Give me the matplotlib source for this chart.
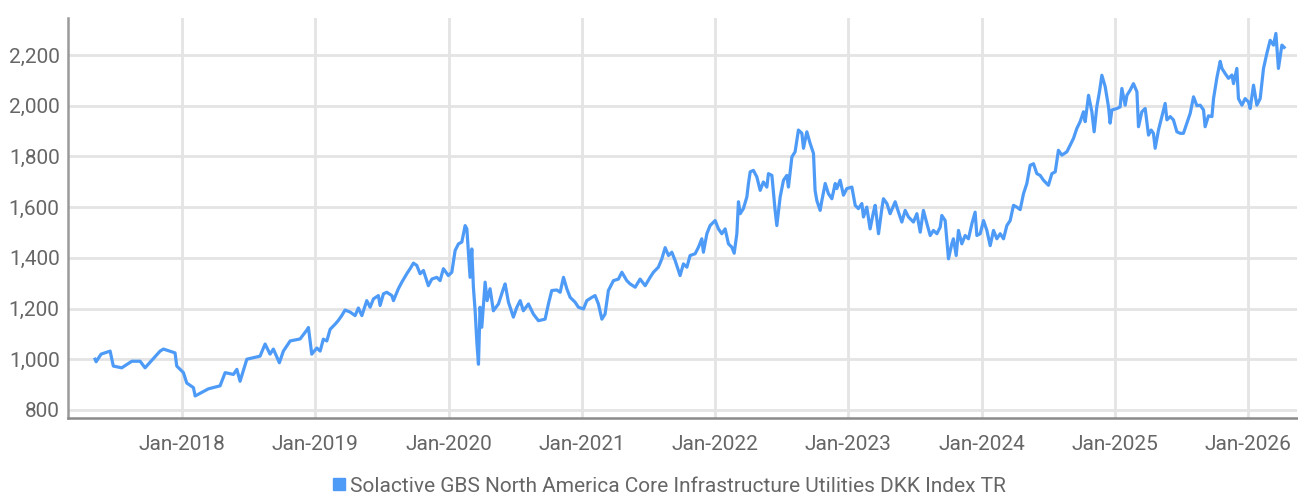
import matplotlib
matplotlib.use("Agg")
import matplotlib.pyplot as plt
from matplotlib.lines import Line2D
from matplotlib.ticker import FuncFormatter

# index level, time as decimal years
years = [
    2017.347, 2017.355, 2017.392, 2017.460, 2017.484, 2017.547, 2017.623, 2017.685, 2017.722, 2017.835,
    2017.860, 2017.947, 2017.960, 2018.010, 2018.035, 2018.085, 2018.098, 2018.197, 2018.285, 2018.323,
    2018.385, 2018.411, 2018.435, 2018.486, 2018.535, 2018.585, 2018.623, 2018.660, 2018.685, 2018.730,
    2018.760, 2018.811, 2018.886, 2018.936, 2018.948, 2018.973, 2019.011, 2019.036, 2019.060, 2019.086,
    2019.111, 2019.148, 2019.171, 2019.198, 2019.223, 2019.261, 2019.298, 2019.323, 2019.349, 2019.386,
    2019.411, 2019.436, 2019.473, 2019.486, 2019.511, 2019.536, 2019.574, 2019.586, 2019.623, 2019.649,
    2019.686, 2019.711, 2019.736, 2019.761, 2019.786, 2019.811, 2019.848, 2019.874, 2019.911, 2019.936,
    2019.961, 2019.998, 2020.024, 2020.049, 2020.074, 2020.099, 2020.124, 2020.137, 2020.161, 2020.174,
    2020.186, 2020.199, 2020.212, 2020.224, 2020.236, 2020.249, 2020.274, 2020.289, 2020.311, 2020.336,
    2020.374, 2020.411, 2020.424, 2020.449, 2020.486, 2020.512, 2020.537, 2020.561, 2020.599, 2020.636,
    2020.674, 2020.724, 2020.749, 2020.774, 2020.812, 2020.837, 2020.862, 2020.887, 2020.912, 2020.949,
    2020.974, 2021.012, 2021.037, 2021.075, 2021.099, 2021.124, 2021.150, 2021.174, 2021.199, 2021.237,
    2021.274, 2021.300, 2021.337, 2021.362, 2021.400, 2021.437, 2021.475, 2021.512, 2021.537, 2021.574,
    2021.600, 2021.625, 2021.650, 2021.675, 2021.700, 2021.737, 2021.762, 2021.788, 2021.812, 2021.850,
    2021.875, 2021.900, 2021.912, 2021.938, 2021.962, 2022.000, 2022.025, 2022.050, 2022.075, 2022.100,
    2022.125, 2022.143, 2022.163, 2022.175, 2022.188, 2022.212, 2022.238, 2022.250, 2022.263, 2022.287,
    2022.313, 2022.338, 2022.362, 2022.388, 2022.400, 2022.426, 2022.450, 2022.463, 2022.488, 2022.513,
    2022.538, 2022.550, 2022.576, 2022.600, 2022.625, 2022.651, 2022.663, 2022.688, 2022.713, 2022.738,
    2022.750, 2022.763, 2022.788, 2022.801, 2022.826, 2022.850, 2022.876, 2022.901, 2022.913, 2022.938,
    2022.963, 2022.988, 2023.026, 2023.051, 2023.075, 2023.101, 2023.113, 2023.138, 2023.163, 2023.188,
    2023.201, 2023.226, 2023.251, 2023.263, 2023.289, 2023.313, 2023.351, 2023.376, 2023.401, 2023.426,
    2023.451, 2023.488, 2023.514, 2023.539, 2023.563, 2023.589, 2023.614, 2023.638, 2023.664, 2023.689,
    2023.701, 2023.726, 2023.739, 2023.751, 2023.776, 2023.788, 2023.809, 2023.826, 2023.851, 2023.876,
    2023.901, 2023.927, 2023.951, 2023.964, 2023.989, 2024.014, 2024.039, 2024.064, 2024.089, 2024.114,
    2024.139, 2024.164, 2024.189, 2024.214, 2024.239, 2024.264, 2024.289, 2024.314, 2024.339, 2024.364,
    2024.389, 2024.414, 2024.439, 2024.464, 2024.501, 2024.527, 2024.552, 2024.576, 2024.602, 2024.639,
    2024.664, 2024.689, 2024.714, 2024.739, 2024.764, 2024.777, 2024.802, 2024.827, 2024.844, 2024.864,
    2024.884, 2024.902, 2024.927, 2024.952, 2024.964, 2024.977, 2025.015, 2025.039, 2025.052, 2025.077,
    2025.090, 2025.114, 2025.139, 2025.165, 2025.177, 2025.202, 2025.227, 2025.252, 2025.272, 2025.289,
    2025.302, 2025.327, 2025.352, 2025.377, 2025.390, 2025.415, 2025.439, 2025.465, 2025.490, 2025.514,
    2025.540, 2025.565, 2025.590, 2025.615, 2025.640, 2025.665, 2025.677, 2025.702, 2025.728, 2025.740,
    2025.765, 2025.790, 2025.803, 2025.827, 2025.852, 2025.878, 2025.890, 2025.915, 2025.927, 2025.953,
    2025.977, 2026.002, 2026.015, 2026.040, 2026.065, 2026.090, 2026.115, 2026.140, 2026.165, 2026.190,
    2026.208, 2026.227, 2026.253, 2026.270,
]
values = [
    1000, 990, 1020, 1032, 973, 966, 992, 992, 966, 1032,
    1040, 1025, 973, 947, 906, 888, 855, 883, 895, 947,
    940, 960, 913, 1000, 1006, 1012, 1060, 1020, 1040, 986,
    1032, 1072, 1080, 1115, 1125, 1020, 1044, 1032, 1079, 1072,
    1118, 1138, 1152, 1172, 1194, 1186, 1172, 1202, 1172, 1231,
    1205, 1238, 1251, 1212, 1258, 1264, 1251, 1231, 1278, 1304,
    1337, 1357, 1379, 1370, 1337, 1350, 1290, 1316, 1323, 1310,
    1357, 1330, 1343, 1429, 1455, 1462, 1527, 1514, 1323, 1435,
    1284, 1191, 1066, 980, 1205, 1126, 1304, 1231, 1278, 1191,
    1218, 1278, 1297, 1225, 1166, 1205, 1231, 1191, 1218, 1178,
    1152, 1158, 1218, 1271, 1273, 1264, 1323, 1278, 1244, 1225,
    1205, 1198, 1231, 1244, 1251, 1218, 1158, 1178, 1271, 1310,
    1316, 1343, 1310, 1297, 1284, 1316, 1290, 1323, 1343, 1363,
    1396, 1440, 1409, 1422, 1389, 1330, 1376, 1363, 1409, 1416,
    1442, 1475, 1422, 1495, 1527, 1547, 1514, 1495, 1514, 1455,
    1442, 1418, 1495, 1621, 1574, 1594, 1640, 1693, 1739, 1745,
    1719, 1666, 1699, 1679, 1732, 1725, 1587, 1527, 1640, 1706,
    1725, 1679, 1798, 1818, 1904, 1891, 1832, 1897, 1851, 1812,
    1666, 1626, 1587, 1626, 1693, 1653, 1633, 1693, 1673, 1706,
    1647, 1673, 1679, 1607, 1594, 1614, 1561, 1600, 1514, 1580,
    1607, 1495, 1594, 1633, 1614, 1574, 1621, 1580, 1541, 1587,
    1561, 1541, 1574, 1501, 1587, 1535, 1488, 1508, 1495, 1521,
    1567, 1547, 1468, 1396, 1455, 1475, 1409, 1508, 1455, 1488,
    1475, 1535, 1580, 1488, 1495, 1547, 1508, 1448, 1508, 1475,
    1495, 1475, 1527, 1547, 1607, 1600, 1590, 1653, 1693, 1765,
    1771, 1732, 1725, 1706, 1686, 1732, 1739, 1824, 1805, 1818,
    1844, 1871, 1910, 1937, 1976, 1937, 2041, 1976, 1897, 1995,
    2055, 2120, 2075, 1995, 1931, 1983, 1989, 1995, 2068, 2002,
    2041, 2061, 2087, 2055, 1917, 1976, 1989, 1884, 1904, 1891,
    1832, 1904, 1957, 2009, 1944, 1957, 1944, 1897, 1891, 1891,
    1931, 1970, 2035, 2000, 2002, 1983, 1917, 1960, 1957, 2028,
    2110, 2175, 2147, 2127, 2108, 2121, 2087, 2147, 2028, 2002,
    2028, 2015, 1989, 2081, 2002, 2028, 2147, 2206, 2258, 2239,
    2285, 2147, 2239, 2230,
]
series_name = "Solactive GBS North America Core Infrastructure Utilities DKK Index TR"
y_ticks = [800, 1000, 1200, 1400, 1600, 1800, 2000, 2200]
x_ticks = [2018, 2019, 2020, 2021, 2022, 2023, 2024, 2025, 2026]

plt.rcParams['font.family'] = ['Roboto', 'DejaVu Sans']
blue = '#4e9bf7'
txt = '#666666'

fig = plt.figure(figsize=(12.98, 4.98), dpi=100)
ax = fig.add_axes([0.0524, 0.1606, 0.947, 0.8033])

ax.plot(years, values, color=blue, linewidth=2.3, zorder=3)

ax.set_xlim(2017.144, 2026.368)
ax.set_ylim(768, 2346)
ax.set_yticks(y_ticks)
ax.set_xticks(x_ticks)
ax.yaxis.set_major_formatter(FuncFormatter(lambda v, p: f'{int(v):,}'))
ax.set_xticklabels([f'Jan-{y}' for y in x_ticks])

ax.grid(True, color='#e4e4e4', linewidth=2, zorder=0)
ax.set_axisbelow(True)
for s in ['top', 'right']:
    ax.spines[s].set_visible(False)
ax.spines['left'].set_color('#9a9a9a')
ax.spines['left'].set_linewidth(1.8)
ax.spines['bottom'].set_color('#8a8a8a')
ax.spines['bottom'].set_linewidth(1.8)
ax.tick_params(axis='both', length=0, labelsize=15, labelcolor=txt)
ax.tick_params(axis='y', pad=6)
ax.tick_params(axis='x', pad=12)

handle = Line2D([], [], marker='s', linestyle='none', color=blue, markersize=9)
fig.legend([handle], [series_name], loc='center', bbox_to_anchor=(0.515, 0.024),
           frameon=False, fontsize=15, labelcolor=txt, handletextpad=0.1,
           handlelength=0.8)

fig.savefig('out.png', dpi=100)
